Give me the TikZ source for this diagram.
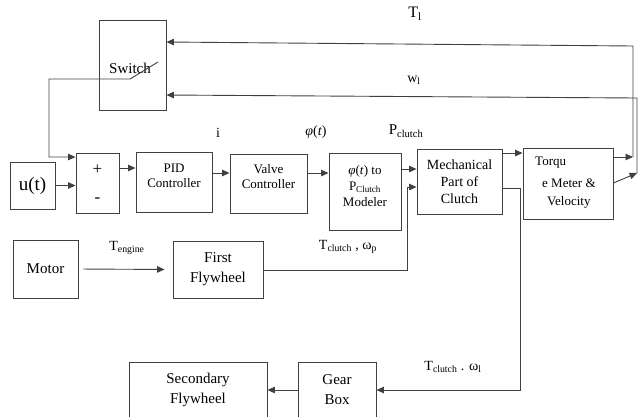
\documentclass[tikz,border=0pt]{standalone}
\usepackage{fontspec}
\setmainfont{Liberation Serif}
\usetikzlibrary{arrows.meta}
\tikzset{
  box/.style={draw=black!75, line width=0.9pt, inner sep=0pt, align=center},
  ln/.style={draw=black!75, line width=0.9pt},
  arr/.style={ln, -{Triangle[length=7.5pt,width=6.5pt]}},
  fA/.style={font=\fontsize{15}{20}\selectfont},
  fB/.style={font=\fontsize{13}{15}\selectfont},
  fC/.style={font=\fontsize{14}{17}\selectfont},
  lbl/.style={font=\fontsize{14}{16}\selectfont, inner sep=0pt},
  txt/.style={inner sep=0pt, align=center},
}
\begin{document}
\begin{tikzpicture}[x=1pt,y=-1pt]
\useasboundingbox (0,0) rectangle (640,416);
\clip (0,0) rectangle (640,416);

% boxes
\node[box, minimum width=67, minimum height=90] (sw) at (132.5,65) {};
\node[txt, fA] (swt) at (130,68) {Switch};
\node[box, font=\fontsize{19}{22}\selectfont, minimum width=45, minimum height=47] (ut) at (32.5,185.5) {u(t)};
\node[box, minimum width=43, minimum height=60] (sum) at (97.5,183) {};
\node[txt, font=\fontsize{17}{20}\selectfont] (plus) at (97.5,170) {+};
\node[txt, font=\fontsize{17}{20}\selectfont] (minus) at (97.5,200) {-};
\node[box, minimum width=76, minimum height=60] (pid) at (174,182) {};
\node[txt, fB] (pidt) at (174,176) {PID\\Controller};
\node[box, minimum width=77, minimum height=59] (valve) at (268.5,183.5) {};
\node[txt, fB] (valvet) at (268.5,177) {Valve\\Controller};
\node[box, minimum width=72, minimum height=77] (phi) at (365,191.5) {};
\node[txt, font=\fontsize{13}{16}\selectfont] (phit) at (365,186) {\textit{φ}(\textit{t}) to\\P\textsubscript{Clutch}\\Modeler};
\node[box, fC, minimum width=85, minimum height=65] (mech) at (459.5,181.5) {Mechanical\\Part of\\Clutch};
\node[box, minimum width=90, minimum height=71] (torque) at (568,183.5) {};
\node[txt, fB, anchor=west] (tq1) at (535,163) {Torqu};
\node[txt, fB, anchor=west] (tq2) at (542,183) {e Meter \&};
\node[txt, fB, anchor=west] (tq3) at (547,202) {Velocity};
\node[box, fA, minimum width=65, minimum height=58] (motor) at (45.5,269) {Motor};
\node[box, fA, minimum width=90, minimum height=57] (ff) at (218,269.5) {First\\Flywheel};
\node[box, fA, minimum width=138, minimum height=56] (sf) at (198,390) {Secondary\\Flywheel};
\node[box, fA, minimum width=78, minimum height=56] (gear) at (337,390) {Gear\\Box};

% labels
\node[lbl, font=\fontsize{16}{18}\selectfont] (lTl) at (415,14) {T\textsubscript{l}};
\node[lbl] (lwl) at (414,80) {w\textsubscript{l}};
\node[lbl] (li) at (218,133) {i};
\node[lbl] (lphi) at (316,132) {\textit{φ}(\textit{t})};
\node[lbl, font=\fontsize{15}{17}\selectfont] (lP) at (406,131) {P\textsubscript{clutch}};
\node[lbl] (lTe) at (127,248) {T\textsubscript{engine}};
\node[lbl] (lTc) at (348,247) {T\textsubscript{clutch} , ω\textsubscript{p}};
\node[lbl] (lTl2) at (453,367) {T\textsubscript{clutch} . ω\textsubscript{l}};

% switch symbol and path to summer
\coordinate (s1) at (130,79);
\coordinate (s2) at (158,62);
\coordinate (s3) at (49,79);
\coordinate (s4) at (49,157);
\draw[arr] (s2) -- (s1) -- (s3) -- (s4) -- (sum.west |- s4);

% feedback lines
\coordinate (t1) at (633,157);
\coordinate (t1u) at (633,46);
\draw[arr] (torque.east |- t1) -- (t1);
\draw[arr] (t1) -- (t1u) -- (sw.east |- 0,42);
\coordinate (t2) at (637,173);
\coordinate (t2u) at (637,98);
\draw[arr] (torque.east |- 0,183) -- (t2);
\draw[arr] (t2) -- (t2u) -- (sw.east |- 0,95);

% forward path
\draw[arr] (ut.east) -- (sum.west |- ut.east);
\draw[arr] (sum.east |- 0,168) -- (pid.west |- 0,168);
\draw[arr] (pid.east |- 0,173) -- (valve.west |- 0,173);
\draw[arr] (valve.east |- 0,173) -- (phi.west |- 0,173);
\draw[arr] (phi.east |- 0,169) -- (mech.west |- 0,169);
\draw[arr] (mech.east |- 0,153) -- (torque.west |- 0,153);

% engine side
\draw[arr, shorten <=5pt, shorten >=8pt] (motor.east) -- (ff.west);
\coordinate (c1) at (407,270);
\coordinate (c2) at (407,187);
\draw[arr] (ff.east |- c1) -- (c1) -- (c2) -- (mech.west |- c2);

% output side
\coordinate (d1) at (520,188);
\coordinate (d2) at (520,390);
\draw[arr] (mech.east |- d1) -- (d1) -- (d2) -- (gear.east |- d2);
\draw[arr] (gear.west) -- (sf.east);
\end{tikzpicture}
\end{document}
